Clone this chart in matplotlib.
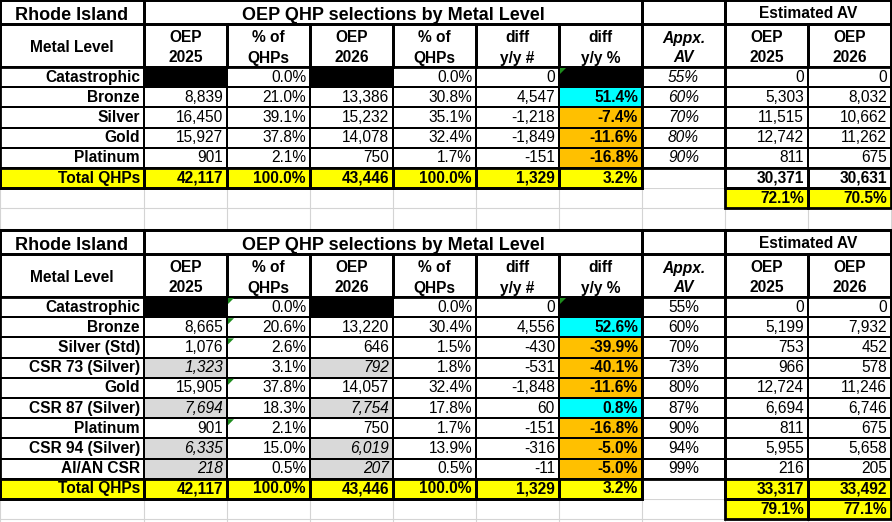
import matplotlib.pyplot as plt
from matplotlib.patches import Rectangle, Polygon

plt.rcParams['font.family'] = ['Liberation Sans', 'DejaVu Sans']

# top table: simple metal levels
top_levels = ["Catastrophic", "Bronze", "Silver", "Gold", "Platinum", "Total QHPs"]
top_oep25 = [None, 8839, 16450, 15927, 901, 42117]
top_pct25 = [0.0, 21.0, 39.1, 37.8, 2.1, 100.0]
top_oep26 = [None, 13386, 15232, 14078, 750, 43446]
top_pct26 = [0.0, 30.8, 35.1, 32.4, 1.7, 100.0]
top_diff = [0, 4547, -1218, -1849, -151, 1329]
top_diffpct = [None, 51.4, -7.4, -11.6, -16.8, 3.2]
top_av = [55, 60, 70, 80, 90, None]
top_est25 = [0, 5303, 11515, 12742, 811, 30371]
top_est26 = [0, 8032, 10662, 11262, 675, 30631]
top_avpct = [72.1, 70.5]

# bottom table: silver split into CSR levels
bot_levels = ["Catastrophic", "Bronze", "Silver (Std)", "CSR 73 (Silver)", "Gold",
              "CSR 87 (Silver)", "Platinum", "CSR 94 (Silver)", "AI/AN CSR", "Total QHPs"]
bot_oep25 = [None, 8665, 1076, 1323, 15905, 7694, 901, 6335, 218, 42117]
bot_pct25 = [0.0, 20.6, 2.6, 3.1, 37.8, 18.3, 2.1, 15.0, 0.5, 100.0]
bot_oep26 = [None, 13220, 646, 792, 14057, 7754, 750, 6019, 207, 43446]
bot_pct26 = [0.0, 30.4, 1.5, 1.8, 32.4, 17.8, 1.7, 13.9, 0.5, 100.0]
bot_diff = [0, 4556, -430, -531, -1848, 60, -151, -316, -11, 1329]
bot_diffpct = [None, 52.6, -39.9, -40.1, -11.6, 0.8, -16.8, -5.0, -5.0, 3.2]
bot_av = [55, 60, 70, 73, 80, 87, 90, 94, 99, None]
bot_est25 = [0, 5199, 753, 966, 12724, 6694, 811, 5955, 216, 33317]
bot_est26 = [0, 7932, 452, 578, 11246, 6746, 675, 5658, 205, 33492]
bot_avpct = [79.1, 77.1]

headers = [["Metal Level"], ["OEP", "2025"], ["% of", "QHPs"], ["OEP", "2026"], ["% of", "QHPs"],
           ["diff", "y/y #"], ["diff", "y/y %"], ["Appx.", "AV"], ["OEP", "2025"], ["OEP", "2026"]]

cols = [0, 144, 227, 310, 393, 476, 559, 642, 725, 808, 891]
ROW = 20.2
FS = 11.2
YELLOW = "#FFFF00"
CYAN = "#00FFFF"
ORANGE = "#FFC000"
SHADE = "#D9D9D9"
GRID = "#D4D4D4"

fig = plt.figure(figsize=(8.92, 5.22), dpi=100)
ax = fig.add_axes([0, 0, 1, 1])
ax.set_xlim(0, 892)
ax.set_ylim(522, 0)
ax.axis('off')


def cell(x0, x1, y0, y1, fill="white", edge=True, lw=1.4):
    ax.add_patch(Rectangle((x0, y0), x1 - x0, y1 - y0, facecolor=fill, edgecolor="none", zorder=1))
    if edge:
        ax.add_patch(Rectangle((x0, y0), x1 - x0, y1 - y0, fill=False, edgecolor="black", lw=lw, zorder=3))


def put(x, y, s, ha="right", bold=False, italic=False, size=FS):
    ax.text(x, y, s, ha=ha, va="baseline", fontsize=size,
            fontweight="bold" if bold else "normal",
            fontstyle="italic" if italic else "normal", zorder=4)


def tri(c, y):
    x = cols[c] + 1
    ax.add_patch(Polygon([[x, y + 1], [x + 6, y + 1], [x, y + 7]], closed=True,
                         facecolor="#1E8C1E", edgecolor="none", zorder=5))


def fmt_n(v):
    return f"{v:,}"


def fmt_p(v):
    return f"{v:.1f}%"


# spreadsheet gridlines
grid_rows = [0, 23.5, 67] + [67 + ROW * i for i in range(1, 9)] + [230, 253.5, 297] + \
            [297 + ROW * i for i in range(1, 12)]
for y in grid_rows:
    ax.plot([0, 892], [y, y], color=GRID, lw=0.8, zorder=0)
for x in cols:
    ax.plot([x, x], [0, 522], color=GRID, lw=0.8, zorder=0)


def block(y0, levels, oep25, pct25, oep26, pct26, diff, diffpct, av, est25, est26, avpct,
          av_italic, est_total_yellow, flags):
    yh = y0 + 23.5
    yd = yh + 43.5
    # title row
    cell(0, cols[1], y0, yh, lw=2)
    put(cols[1] / 2, y0 + 19.5, "Rhode Island", ha="center", bold=True, size=13)
    cell(cols[1], cols[7], y0, yh, lw=2)
    put((cols[1] + cols[7]) / 2, y0 + 19.5, "OEP QHP selections by Metal Level", ha="center", bold=True, size=13)
    cell(cols[7], cols[8], y0, yh, lw=2)
    cell(cols[8], cols[10], y0, yh, lw=2)
    put((cols[8] + cols[10]) / 2, y0 + 18.5, "Estimated AV", ha="center", bold=True)
    # header row
    for c, h in enumerate(headers):
        cell(cols[c], cols[c + 1], yh, yd, lw=2)
        mid = (cols[c] + cols[c + 1]) / 2
        if len(h) == 1:
            put(mid, yh + 28.5, h[0], ha="center", bold=True)
        else:
            put(mid, yh + 19, h[0], ha="center", bold=True, italic=(c == 7))
            put(mid, yh + 39, h[1], ha="center", bold=True, italic=(c == 7))
    n = len(levels)
    for i in range(n):
        top = yd + ROW * i
        bot = top + ROW
        base = bot - 5.5
        total = i == n - 1
        shaded = levels[i].startswith("CSR") or levels[i].startswith("AI/AN")
        vals = [levels[i], oep25[i], pct25[i], oep26[i], pct26[i], diff[i], diffpct[i], av[i], est25[i], est26[i]]
        for c, v in enumerate(vals):
            fill = "white"
            if total and c <= 6:
                fill = YELLOW
            if shaded and c in (1, 3):
                fill = SHADE
            if c == 6 and v is not None and not total:
                fill = CYAN if v > 0 else ORANGE
            if v is None and c in (1, 3, 6):
                fill = "black"
            if total and c in (8, 9) and est_total_yellow:
                fill = YELLOW
            edge = not (total and c == 7)
            cell(cols[c], cols[c + 1], top, bot, fill=fill, edge=edge, lw=2 if total else 1.4)
            if v is None:
                continue
            xr = cols[c + 1] - 4
            if c == 0:
                put(xr, base, v, bold=True)
            elif c in (2, 4):
                put(xr, base, fmt_p(v), bold=total)
            elif c == 6:
                put(xr, base, fmt_p(v), bold=True)
            elif c == 7:
                put((cols[c] + cols[c + 1]) / 2, base, f"{v}%", ha="center", italic=av_italic)
            else:
                put(xr, base, fmt_n(v), bold=total, italic=shaded and c in (1, 3))
    # average AV row under the estimate columns
    top = yd + ROW * n
    for k, c in enumerate((8, 9)):
        cell(cols[c], cols[c + 1], top, top + ROW, fill=YELLOW, lw=2)
        put(cols[c + 1] - 4, top + ROW - 5.5, fmt_p(avpct[k]), bold=True)
    # outer frames of each section
    last = yd + ROW * n
    for xa, xb in ((0, cols[7]), (cols[7], cols[8]), (cols[8], cols[10])):
        ax.add_patch(Rectangle((xa, y0), xb - xa, last - y0 - (ROW if xa == cols[7] else 0),
                               fill=False, edgecolor="black", lw=2, zorder=3))
    for r, c in flags:
        tri(c, yd + ROW * r)


block(0, top_levels, top_oep25, top_pct25, top_oep26, top_pct26, top_diff, top_diffpct,
      top_av, top_est25, top_est26, top_avpct, True, False, [(0, 6)])
block(230, bot_levels, bot_oep25, bot_pct25, bot_oep26, bot_pct26, bot_diff, bot_diffpct,
      bot_av, bot_est25, bot_est26, bot_avpct, False, True,
      [(0, 2), (1, 2), (2, 2), (4, 2), (6, 2), (0, 6)])

fig.savefig("out.png", dpi=100)
